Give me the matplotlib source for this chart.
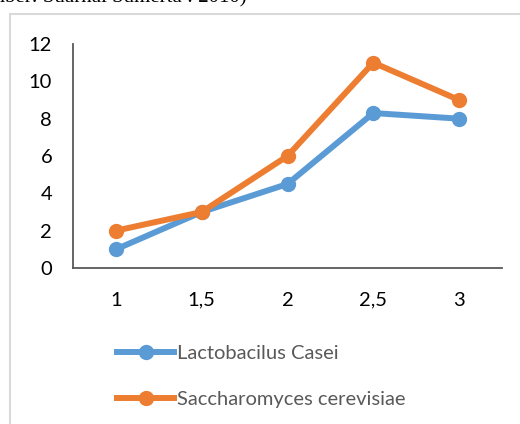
import matplotlib
matplotlib.use("Agg")
import matplotlib.pyplot as plt
from matplotlib.lines import Line2D
from matplotlib.patches import Rectangle

plt.rcParams['font.family'] = ['Lato', 'DejaVu Sans']

categories = ["1", "1,5", "2", "2,5", "3"]
lactobacillus = [1, 3, 4.5, 8.3, 8]
saccharomyces = [2, 3, 6, 11, 9]
series_names = ["Lactobacilus Casei", "Saccharomyces cerevisiae"]

blue = "#5B9BD5"
orange = "#ED7D31"
W, H = 520, 424

fig = plt.figure(figsize=(W / 100, H / 100), dpi=100)

# cut-off caption line above the chart box
fig.text(247 / W, 1 - 2 / H, "(Sumber: Suarnai Sumerta : 2010)", ha="right", va="baseline",
         family="Liberation Serif", fontsize=15, color="black")

# chart area border
fig.patches.append(Rectangle((10 / W, -0.1), 1.0, 1 - 14 / H + 0.1, transform=fig.transFigure,
                             fill=False, edgecolor="#d9d9d9", linewidth=1.5))

ax = fig.add_axes([73 / W, 156 / H, (502 - 73) / W, 224 / H])
x = list(range(len(categories)))
ax.plot(x, lactobacillus, color=blue, lw=4.3, marker="o", ms=10, solid_capstyle="round")
ax.plot(x, saccharomyces, color=orange, lw=4.3, marker="o", ms=10, solid_capstyle="round")

ax.set_xlim(-0.5, len(categories) - 0.5)
ax.set_ylim(0, 12)
ax.set_yticks(range(0, 13, 2))
ax.set_xticks(x)
ax.set_xticklabels(categories)
ax.tick_params(length=0, labelsize=14.5, colors="black")
ax.tick_params(axis="x", pad=17)
ax.tick_params(axis="y", pad=15)
for s in ["top", "right"]:
    ax.spines[s].set_visible(False)
for s in ["left", "bottom"]:
    ax.spines[s].set_color("#595959")
    ax.spines[s].set_linewidth(1.3)

handles = [Line2D([], [], color=blue, lw=4.3, marker="o", ms=10),
           Line2D([], [], color=orange, lw=4.3, marker="o", ms=10)]
leg = fig.legend(handles, series_names, loc="upper left", bbox_to_anchor=(117 / W, 1 - 345 / H),
                 frameon=False, fontsize=14.5, handlelength=2.85, handletextpad=0.15,
                 labelspacing=1.45, borderpad=0, borderaxespad=0)
for t in leg.get_texts():
    t.set_color("#595959")

fig.savefig("out.png", dpi=100)
